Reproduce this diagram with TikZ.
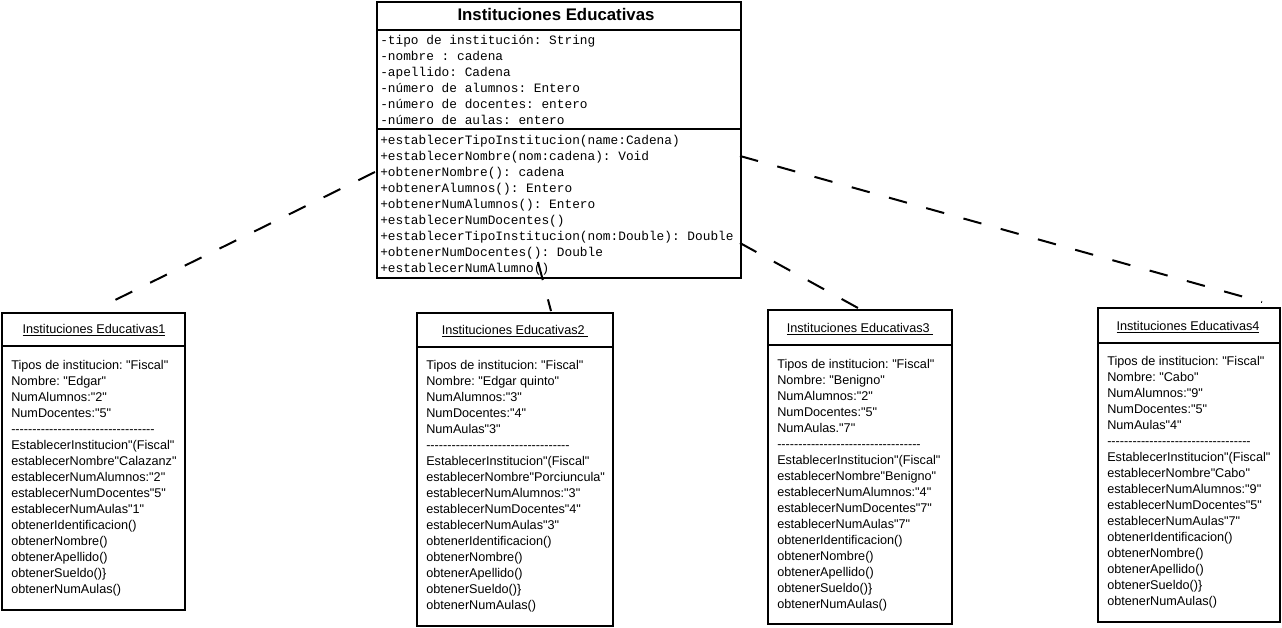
\documentclass[tikz,border=0pt]{standalone}
\usepackage{fontspec}
\newfontfamily\objfont{Liberation Sans}
\newfontfamily\monofont{Liberation Mono}
\newcommand\myhfive{\hbox{-}\hbox{-}\hbox{-}\hbox{-}\hbox{-}}
\newcommand\myhyrow{\myhfive\myhfive\myhfive\myhfive\myhfive\myhfive\hbox{-}\hbox{-}\hbox{-}\hbox{-}}
\frenchspacing
\begin{document}
\begin{tikzpicture}[x=0.75pt,y=-0.75pt,
  umlbox/.style={draw, line width=1.5pt, inner sep=0pt, anchor=north west},
  divl/.style={line width=1.5pt},
  monotxt/.style={font=\monofont\fontsize{9.6}{12}\selectfont\frenchspacing, anchor=base west, inner sep=0pt},
  objtxt/.style={font=\objfont\fontsize{9.5}{12}\selectfont\frenchspacing, anchor=base west, inner sep=0pt},
  objtitle/.style={font=\objfont\fontsize{9.5}{12}\selectfont, anchor=base, inner sep=0pt},
  conn/.style={line width=1.5pt, dash pattern=on 14pt off 15pt}]
\useasboundingbox (0,0) rectangle (1282,628);

% main class
\node[umlbox, minimum width=273pt, minimum height=207pt] (main) at (376,1) {};
\draw[divl] (376,30) -- (740,30);
\draw[divl] (376,129) -- (740,129);
\node[font=\objfont\bfseries\fontsize{12.6}{14}\selectfont, anchor=base, inner sep=0pt] (maintitle) at (556,21) {Instituciones Educativas};
\foreach \t [count=\i from 0] in {-tipo de institución: String,-nombre : cadena,-apellido: Cadena,-número de alumnos: Entero,-número de docentes: entero,-número de aulas: entero}
  \node[monotxt] (attr\i) at (380,{44+16*\i}) {\t};
\foreach \t [count=\i from 0] in {+establecerTipoInstitucion(name:Cadena),+establecerNombre(nom:cadena): Void,+obtenerNombre(): cadena,+obtenerAlumnos(): Entero,+obtenerNumAlumnos(): Entero,+establecerNumDocentes(),+establecerTipoInstitucion(nom:Double): Double,+obtenerNumDocentes(): Double,+establecerNumAlumno()}
  \node[monotxt] (meth\i) at (380,{144+16*\i}) {\t};

% object 1
\node[umlbox, minimum width=137.25pt, minimum height=222.75pt] (o1) at (1,312) {};
\draw[divl] (1,346) -- (184,346);
\node[objtitle] (o1t) at (94,333) {\underline{Instituciones Educativas1}};
\foreach \t [count=\i from 0] in {Tipos de institucion: "Fiscal",Nombre: "Edgar",NumAlumnos:"2",NumDocentes:"5",\myhyrow,EstablecerInstitucion"(Fiscal",establecerNombre"Calazanz",establecerNumAlumnos:"2",establecerNumDocentes"5",establecerNumAulas"1",obtenerIdentificacion(),obtenerNombre(),obtenerApellido(),obtenerSueldo()\},obtenerNumAulas()}
  \node[objtxt] (o1l\i) at (11,{369.5+16*\i}) {\t};

% object 2
\node[umlbox, minimum width=147pt, minimum height=234.75pt] (o2) at (416,312) {};
\draw[divl] (416,347) -- (612,347);
\node[objtitle] (o2t) at (515,334) {\underline{Instituciones Educativas2\ }};
\foreach \t [count=\i from 0] in {Tipos de institucion: "Fiscal",Nombre: "Edgar quinto",NumAlumnos:"3",NumDocentes:"4",NumAulas"3",\myhyrow,EstablecerInstitucion"(Fiscal",establecerNombre"Porciuncula",establecerNumAlumnos:"3",establecerNumDocentes"4",establecerNumAulas"3",obtenerIdentificacion(),obtenerNombre(),obtenerApellido(),obtenerSueldo()\},obtenerNumAulas()}
  \node[objtxt] (o2l\i) at (426,{369.5+16*\i}) {\t};

% object 3
\node[umlbox, minimum width=138pt, minimum height=235.5pt] (o3) at (767,309) {};
\draw[divl] (767,345) -- (951,345);
\node[objtitle] (o3t) at (860,332) {\underline{Instituciones Educativas3\ }};
\foreach \t [count=\i from 0] in {Tipos de institucion: "Fiscal",Nombre: "Benigno",NumAlumnos:"2",NumDocentes:"5",NumAulas."7",\myhyrow,EstablecerInstitucion"(Fiscal",establecerNombre"Benigno",establecerNumAlumnos:"4",establecerNumDocentes"7",establecerNumAulas"7",obtenerIdentificacion(),obtenerNombre(),obtenerApellido(),obtenerSueldo()\},obtenerNumAulas()}
  \node[objtxt] (o3l\i) at (777,{368.5+16*\i}) {\t};

% object 4
\node[umlbox, minimum width=136.5pt, minimum height=235.5pt] (o4) at (1097,307) {};
\draw[divl] (1097,343) -- (1279,343);
\node[objtitle] (o4t) at (1188,330) {\underline{Instituciones Educativas4}};
\foreach \t [count=\i from 0] in {Tipos de institucion: "Fiscal",Nombre: "Cabo",NumAlumnos:"9",NumDocentes:"5",NumAulas"4",\myhyrow,EstablecerInstitucion"(Fiscal",establecerNombre"Cabo",establecerNumAlumnos:"9",establecerNumDocentes"5",establecerNumAulas"7",obtenerIdentificacion(),obtenerNombre(),obtenerApellido(),obtenerSueldo()\},obtenerNumAulas()}
  \node[objtxt] (o4l\i) at (1107,{365.5+16*\i}) {\t};

% connectors
\coordinate (s1) at (375,172); \coordinate (e1) at (107,304);
\coordinate (s2) at (538,262); \coordinate (e2) at (551,311);
\coordinate (s3) at (740,243); \coordinate (e3) at (858,308);
\coordinate (s4) at (740,156); \coordinate (e4) at (1262,302);
\draw[conn] (s1) -- (e1);
\draw[conn] (s2) -- (e2);
\draw[conn] (s3) -- (e3);
\draw[conn] (s4) -- (e4);
\end{tikzpicture}
\end{document}
